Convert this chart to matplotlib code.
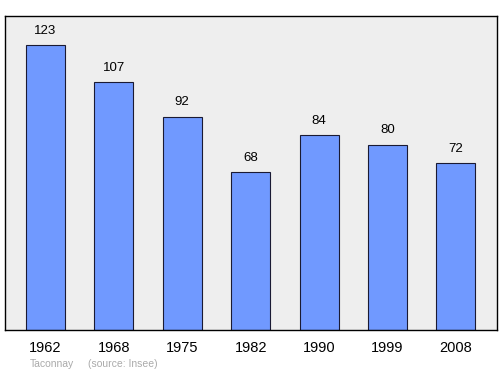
import matplotlib
matplotlib.use('Agg')
import matplotlib.pyplot as plt

# Population data for Taconnay
years = ['1962', '1968', '1975', '1982', '1990', '1999', '2008']
population = [123, 107, 92, 68, 84, 80, 72]

BAR_COLOR = '#7099ff'
BG_COLOR = '#eeeeee'

plt.rcParams['font.family'] = ['Liberation Sans', 'DejaVu Sans']


def plot_population(years, population, output_path):
    fig = plt.figure(figsize=(5, 3.74), dpi=100)
    ax = fig.add_axes([0.01, 0.1176, 0.984, 0.8396])
    ax.set_facecolor(BG_COLOR)

    x = range(len(years))
    ax.bar(x, population, width=0.57, color=BAR_COLOR, edgecolor='#1a1a33', linewidth=0.8)

    for i, value in enumerate(population):
        ax.annotate(str(value), (i, value), xytext=(0, 6), textcoords='offset points',
                    ha='center', va='bottom', fontsize=9.5)

    ax.set_xlim(-0.59, 6.6)
    ax.set_ylim(0, 135.5)
    ax.set_xticks(list(x))
    ax.set_xticklabels(years, fontsize=10.5)
    ax.tick_params(axis='x', length=0, pad=8)
    ax.set_yticks([])
    for spine in ax.spines.values():
        spine.set_linewidth(1.0)

    fig.text(0.06, 0.018, 'Taconnay', fontsize=7.5, color='#aaaaaa')
    fig.text(0.176, 0.018, '(source: Insee)', fontsize=7.5, color='#aaaaaa')

    fig.savefig(output_path, dpi=100)
    plt.close(fig)


def main():
    plot_population(years, population, 'out.png')


if __name__ == "__main__":
    main()
